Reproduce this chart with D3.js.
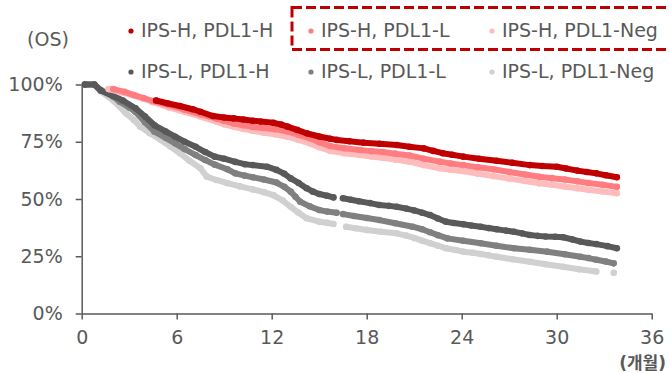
<!DOCTYPE html>
<html><head><meta charset="utf-8">
<script src="https://cdn.jsdelivr.net/npm/d3@7"></script>
<style>body{margin:0;background:#fff}svg{display:block}text{font-family:"DejaVu Sans","Noto Sans CJK KR",sans-serif;fill:#595959}</style>
</head><body><svg id="c" width="670" height="373"></svg>
<script>
const seriesNames = ["IPS-H, PDL1-H","IPS-H, PDL1-L","IPS-H, PDL1-Neg","IPS-L, PDL1-H","IPS-L, PDL1-L","IPS-L, PDL1-Neg"];
const seriesColors = ["#c00000","#ff7c80","#ffbcbc","#595959","#808080","#d0d0d0"];
const xTicks = [0,6,12,18,24,30,36];
const yTicks = [0,25,50,75,100];
// [month, survival %], null = gap in markers
const ipsH_pdlH = [[4.7,93],[5.4,91.8],[6.2,90.6],[7.0,89.2],[7.5,88.1],[8.3,86.2],[9.0,85.6],[9.6,85.2],[10.2,84.7],[10.8,84.2],[11.3,83.8],[12.1,83.3],[12.6,82.5],[13.0,81.6],[13.6,80.2],[14.2,78.7],[15.0,77.3],[15.7,76.3],[16.1,75.8],[16.9,75.2],[17.8,74.6],[18.8,74.1],[19.9,73.6],[20.7,72.8],[21.6,72.1],[22.2,71.0],[22.8,70.0],[23.4,69.3],[24.1,68.5],[25.1,67.6],[26.2,66.7],[27.2,65.8],[28.3,64.8],[29.1,64.4],[30.0,64.1],[30.6,63.3],[31.3,62.4],[31.9,61.8],[32.5,61.2],[33.1,60.4],[33.8,59.5]];
const ipsH_pdlL = [[2.0,98],[2.7,96.8],[3.3,95.4],[3.9,94.1],[4.5,92.8],[5.5,91],[6.5,89],[7.5,87],[8.5,85.2],[9.0,84.1],[9.6,83],[10.2,82.2],[10.8,81.5],[11.5,81],[12.2,80.5],[13.0,79.5],[13.7,78],[14.4,76.5],[15.0,74.8],[15.7,73.1],[16.6,72.2],[17.6,71.4],[18.3,70.9],[19.0,70.5],[19.8,69.8],[20.7,69],[21.6,67.6],[22.6,66.3],[23.3,65.5],[24.1,64.8],[25.0,63.9],[26.0,63],[27.0,61.8],[28.0,60.7],[28.9,59.7],[29.7,59.1],[30.5,58.5],[31.3,57.7],[32.0,57],[32.9,56.2],[33.8,55.3]];
const ipsH_pdlNeg = [[1.7,98],[2.5,96.6],[3.3,95.2],[3.9,93.8],[4.5,92.3],[5.5,90],[6.5,88],[7.5,86],[8.5,83.8],[9.0,82.6],[9.6,81.5],[10.2,80.6],[10.8,79.8],[11.5,78.9],[12.2,78.3],[13.0,77.2],[13.7,75.8],[14.4,74.3],[15.0,72.6],[15.7,71],[16.6,70],[17.6,69.2],[18.3,68.6],[19.0,68],[19.8,67.2],[20.7,66.3],[21.6,64.8],[22.6,63.4],[23.3,62.8],[23.9,62.3],[25.0,61.1],[26.0,60],[27.0,58.9],[28.0,57.9],[28.9,56.9],[29.7,56.2],[30.5,55.5],[31.3,54.7],[32.0,54],[32.9,53.3],[33.8,52.5]];
const ipsL_pdlH = [[0.2,100],[0.8,100],[1.2,97.4],[2.0,95],[2.6,93],[3.4,89.6],[4.0,86],[4.6,82.2],[5.3,79.5],[5.9,77.2],[6.5,75],[7.2,72.8],[7.8,70.5],[8.4,68.5],[9.0,67.6],[9.7,66.2],[10.3,65.2],[10.8,64.8],[11.7,64.1],[12.3,62.7],[12.8,61],[13.2,59],[13.7,57],[14.2,54.7],[14.6,53.2],[15.0,52.2],[15.5,51.4],[15.9,50.7],null,[16.5,50.3],[17.0,49.7],[17.5,49],[18.2,48.2],[18.8,47.4],[19.4,47],[19.9,46.6],[20.5,45.8],[21.0,45],[21.5,44],[22.0,43],[22.5,41.5],[23.0,40.1],[23.5,39.5],[24.1,39],[24.6,38.4],[25.2,37.9],[25.7,37.3],[26.2,36.8],[26.8,36.2],[27.3,35.7],[27.8,35],[28.3,34.3],[28.8,33.9],[29.3,33.6],[29.9,33.5],[30.4,33.3],[31.0,32.3],[31.5,31.4],[32.0,30.8],[32.5,30.3],[33.2,29.4],[33.8,28.5]];
const ipsL_pdlL = [[0.2,100],[0.8,100],[1.2,97.6],[2.0,94.7],[2.4,92.5],[3.0,90],[3.4,88],[4.0,83.5],[4.6,79.4],[5.3,76.7],[5.9,74.3],[6.5,71.8],[7.2,69.2],[7.8,67],[8.4,65],[9.2,63],[9.7,61.2],[10.3,60.2],[10.8,59.5],[11.5,58.5],[12.3,57.2],[12.8,55.3],[13.2,53.2],[13.5,51],[13.8,48.8],[14.4,46.8],[15.0,45.2],[15.5,44.5],[16.1,44],null,[16.5,43.4],[17.2,42.6],[18.0,41.7],[18.8,40.8],[19.8,39.4],[20.9,37.9],[21.5,36.8],[22.0,35.5],[22.5,34.2],[23.1,32.8],[24.1,31.8],[25.2,30.7],[26.2,29.6],[27.3,28.5],[28.3,27.8],[29.4,27],[30.5,25.9],[31.5,24.8],[32.0,24.2],[32.5,23.5],[33.1,22.7],[33.6,21.9]];
const ipsL_pdlNeg = [[0.2,100],[0.8,100],[1.2,97],[2.0,93],[2.8,87.4],[3.3,84.5],[3.7,81.6],[4.3,78.7],[5.0,75.8],[5.6,72.9],[6.2,70],[6.8,66.7],[7.5,63.4],[7.9,59.8],[8.5,58.3],[9.2,56.9],[10.0,55.5],[10.8,54.2],[11.5,53],[12.1,51.7],[12.7,49.3],[13.2,46.6],[13.7,44],[14.2,41.6],[15.0,40.1],[15.5,39.6],[15.9,39.1],null,[16.7,37.9],[17.3,37.2],[18.0,36.5],[18.9,35.7],[19.9,35],[20.5,34],[21.0,33],[21.5,31.8],[22.0,30.7],[22.5,29.6],[23.0,28.5],[23.6,27.7],[24.1,27],[24.7,26.5],[25.2,26],[25.7,25.4],[26.2,24.8],[27.2,23.7],[28.3,22.6],[29.3,21.5],[30.4,20.4],[31.4,19.3],[32.5,18.3],null,[33.6,17.8]];
const allSeries = [ipsH_pdlH, ipsH_pdlL, ipsH_pdlNeg, ipsL_pdlH, ipsL_pdlL, ipsL_pdlNeg];

const svg = d3.select("#c");
const x = d3.scaleLinear().domain([0,36]).range([81.7,651.7]);
const y = d3.scaleLinear().domain([0,100]).range([313.5,84.5]);

// axes
const xAxis = svg.append("g").attr("transform","translate(0,313.5)")
  .call(d3.axisBottom(x).tickValues(xTicks).tickSize(6).tickSizeOuter(0).tickFormat(d=>d));
xAxis.select(".domain").attr("stroke","#595959").attr("stroke-width",1.5);
xAxis.selectAll(".tick line").attr("stroke","#595959").attr("stroke-width",1.5);
xAxis.selectAll(".tick text").attr("y",17).attr("dy","0.71em").style("font-size","19px").attr("fill","#595959");
const yAxis = svg.append("g").attr("transform","translate(81.7,0)")
  .call(d3.axisLeft(y).tickValues(yTicks).tickSize(6).tickSizeOuter(0).tickFormat(d=>d+"%"));
yAxis.select(".domain").attr("stroke","#595959").attr("stroke-width",1.5);
yAxis.selectAll(".tick line").attr("stroke","#595959").attr("stroke-width",1.5);
yAxis.selectAll(".tick text").attr("x",-19).style("font-size","19px").attr("fill","#595959").attr("text-anchor","end");

svg.append("text").attr("x",48).attr("y",46).attr("text-anchor","middle").style("font-size","19px").text("(OS)");
svg.append("text").attr("x",666).attr("y",369).attr("text-anchor","end").style("font-size","17px").style("font-weight","bold").text("(개월)");

// series (grays first, then pinks, red on top)
const line = d3.line().defined(d=>d!==null).x(d=>x(d[0])).y(d=>y(d[1]));
[5,4,3,2,1,0].forEach(i=>{
  const g = svg.append("g");
  g.append("path").datum(allSeries[i]).attr("d",line).attr("fill","none")
    .attr("stroke",seriesColors[i]).attr("stroke-width",6).attr("stroke-linecap","round").attr("stroke-linejoin","round");
  g.selectAll("circle").data(allSeries[i].filter(d=>d!==null)).join("circle")
    .attr("cx",d=>x(d[0])).attr("cy",d=>y(d[1])).attr("r",3.3).attr("fill",seriesColors[i]);
});

// legend
const legX = [131,311,492];
const legY = [30,71];
seriesNames.forEach((n,i)=>{
  const cx = legX[i%3], cy = legY[Math.floor(i/3)];
  svg.append("circle").attr("cx",cx).attr("cy",cy+1).attr("r",2.6).attr("fill",seriesColors[i]);
  svg.append("text").attr("x",cx+10).attr("y",cy).attr("dy","0.36em").style("font-size","19px").text(n);
});
// dashed highlight box
svg.append("rect").attr("x",292).attr("y",7.5).attr("width",390).attr("height",42)
  .attr("fill","none").attr("stroke","#c00000").attr("stroke-width",3).attr("stroke-dasharray","10,4");
</script></body></html>
